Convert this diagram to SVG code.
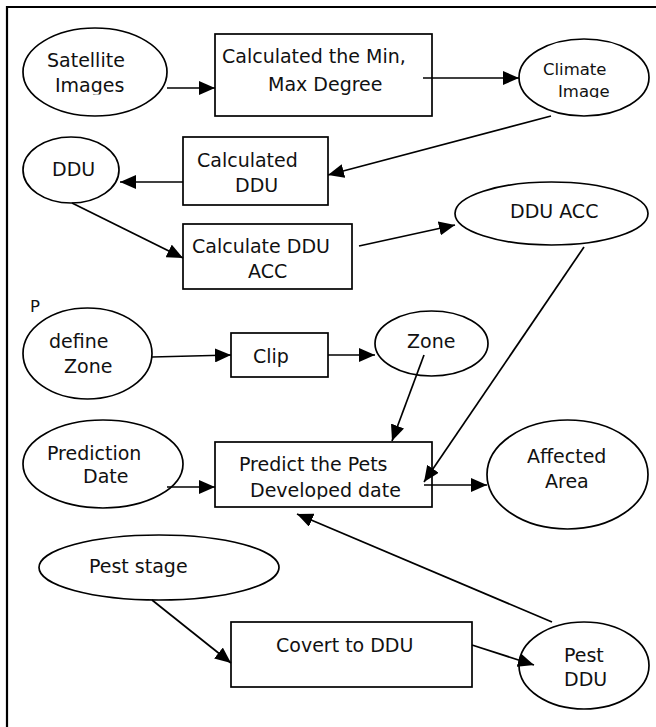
<svg xmlns="http://www.w3.org/2000/svg" width="656" height="727" viewBox="0 0 656 727">
  <style>
    .shape { fill: #ffffff; stroke: #000000; stroke-width: 1.7; }
    .frame { fill: none; stroke: #000000; stroke-width: 2.2; }
    .edge { fill: none; stroke: #000000; stroke-width: 1.7; marker-end: url(#arrow); }
    text { font-family: "DejaVu Sans", Verdana, sans-serif; font-size: 19px; fill: #111111; }
    .small { font-size: 16.5px; }
  </style>
  <defs>
    <marker id="arrow" markerUnits="userSpaceOnUse" markerWidth="17" markerHeight="14" refX="16" refY="7" orient="auto">
      <path d="M0,0 L16,7 L0,14 z" fill="#000000"/>
    </marker>
    <!-- text boxes cut their last line just under the baseline -->
    <clipPath id="clipSat"><rect x="0" y="0" width="656" height="94.5"/></clipPath>
    <clipPath id="clipClimate"><rect x="0" y="0" width="656" height="98"/></clipPath>
    <clipPath id="clipPredict"><rect x="0" y="0" width="656" height="499.5"/></clipPath>
  </defs>

  <!-- page frame: top and left rules -->
  <path class="frame" d="M7,727 L7,7 L656,7"/>

  <g id="satellite-images">
    <ellipse class="shape" cx="95" cy="72" rx="72" ry="44"/>
    <text x="47" y="67">Satellite</text>
    <text x="55" y="92" clip-path="url(#clipSat)">Images</text>
  </g>

  <g id="calc-min-max">
    <rect class="shape" x="215" y="34" width="217" height="82"/>
    <text x="222" y="63">Calculated the Min,</text>
    <text x="268" y="91">Max Degree</text>
  </g>

  <g id="climate-image">
    <ellipse class="shape" cx="584" cy="77.5" rx="65" ry="38.5"/>
    <text class="small" x="543" y="75">Climate</text>
    <text class="small" x="558" y="97" clip-path="url(#clipClimate)">Image</text>
  </g>

  <g id="ddu">
    <ellipse class="shape" cx="71" cy="170" rx="48" ry="33"/>
    <text x="52" y="176">DDU</text>
  </g>

  <g id="calc-ddu">
    <rect class="shape" x="183" y="137" width="145" height="68"/>
    <text x="197" y="167">Calculated</text>
    <text x="235" y="192">DDU</text>
  </g>

  <g id="calc-ddu-acc">
    <rect class="shape" x="183" y="224" width="169" height="65"/>
    <text x="192" y="253">Calculate DDU</text>
    <text x="248" y="278">ACC</text>
  </g>

  <g id="ddu-acc">
    <ellipse class="shape" cx="551.5" cy="213.5" rx="96.5" ry="31.5"/>
    <text x="510" y="218">DDU ACC</text>
  </g>

  <g id="label-p">
    <text class="small" x="30" y="312">P</text>
  </g>

  <g id="define-zone">
    <ellipse class="shape" cx="87.5" cy="353.5" rx="64.5" ry="45.5"/>
    <text x="49" y="348">define</text>
    <text x="64" y="373">Zone</text>
  </g>

  <g id="clip">
    <rect class="shape" x="231" y="333" width="97" height="44"/>
    <text x="253" y="363">Clip</text>
  </g>

  <g id="zone">
    <ellipse class="shape" cx="431.5" cy="343.5" rx="56.5" ry="32.5"/>
    <text x="407" y="348">Zone</text>
  </g>

  <g id="prediction-date">
    <ellipse class="shape" cx="103" cy="464" rx="80" ry="44"/>
    <text x="47" y="460">Prediction</text>
    <text x="83" y="483">Date</text>
  </g>

  <g id="predict">
    <rect class="shape" x="215" y="442" width="217" height="65"/>
    <text x="239" y="471">Predict the Pets</text>
    <text x="250" y="497" clip-path="url(#clipPredict)">Developed date</text>
  </g>

  <g id="affected-area">
    <ellipse class="shape" cx="567.5" cy="474.5" rx="80.5" ry="54.5"/>
    <text x="527" y="463">Affected</text>
    <text x="545" y="488">Area</text>
  </g>

  <g id="pest-stage">
    <ellipse class="shape" cx="159" cy="567.5" rx="120" ry="32.5"/>
    <text x="89" y="573">Pest stage</text>
  </g>

  <g id="covert-to-ddu">
    <rect class="shape" x="231" y="622" width="241" height="65"/>
    <text x="276" y="652">Covert to DDU</text>
  </g>

  <g id="pest-ddu">
    <ellipse class="shape" cx="584" cy="665.5" rx="65" ry="43.5"/>
    <text x="564" y="662">Pest</text>
    <text x="564" y="686">DDU</text>
  </g>

  <!-- connectors sit above the shapes so their ends overlap the outlines -->
  <g id="connectors">
    <line class="edge" x1="167" y1="88" x2="215" y2="88"/>
    <line class="edge" x1="423" y1="78" x2="519" y2="78"/>
    <line class="edge" x1="551" y1="116" x2="328" y2="175"/>
    <line class="edge" x1="183" y1="182" x2="120" y2="182"/>
    <line class="edge" x1="72" y1="203" x2="183" y2="258"/>
    <line class="edge" x1="359" y1="246" x2="455" y2="225"/>
    <line class="edge" x1="584" y1="247" x2="424" y2="482"/>
    <line class="edge" x1="152" y1="357" x2="231" y2="355"/>
    <line class="edge" x1="328" y1="355" x2="375" y2="355"/>
    <line class="edge" x1="424" y1="355" x2="392" y2="441"/>
    <line class="edge" x1="167" y1="487" x2="215" y2="487"/>
    <line class="edge" x1="424" y1="485" x2="487" y2="485"/>
    <line class="edge" x1="552" y1="622" x2="297" y2="514"/>
    <line class="edge" x1="152" y1="600" x2="231" y2="663"/>
    <line class="edge" x1="472" y1="645" x2="534" y2="665"/>
  </g>
</svg>
